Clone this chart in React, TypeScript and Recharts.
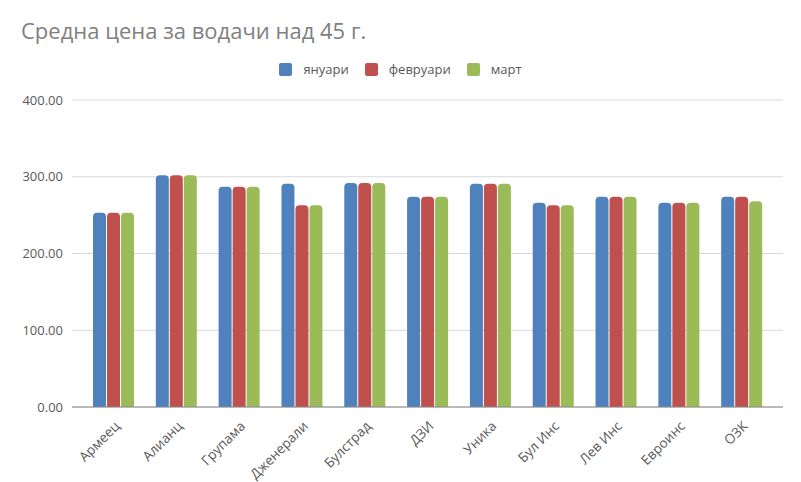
import { Bar, BarChart, CartesianGrid, XAxis, YAxis } from "recharts";

const companies = ["Армеец", "Алианц", "Групама", "Дженерали", "Булстрад", "ДЗИ", "Уника", "Бул Инс", "Лев Инс", "Евроинс", "ОЗК"];
const january = [253, 302, 287, 291, 292, 274, 291, 266, 274, 266, 274];
const february = [253, 302, 287, 263, 292, 274, 291, 263, 274, 266, 274];
const march = [253, 302, 287, 263, 292, 274, 291, 263, 274, 266, 268];
const yTicks = [0, 100, 200, 300, 400];

const series = [
  { key: "jan", name: "януари", color: "#4F81BD" },
  { key: "feb", name: "февруари", color: "#C0504D" },
  { key: "mar", name: "март", color: "#9BBB59" },
];

const data = companies.map((name, i) => ({
  name,
  jan: january[i],
  feb: february[i],
  mar: march[i],
}));

const font = "'Open Sans', 'DejaVu Sans', sans-serif";

function AngledTick(props: any) {
  const { x, y, payload } = props;
  const tx = x + 7;
  const ty = y + 12;
  return (
    <text
      x={tx}
      y={ty}
      transform={`rotate(-45, ${tx}, ${ty})`}
      textAnchor="end"
      fontSize={13.5}
      fill="#595959"
      fontFamily={font}
    >
      {payload.value}
    </text>
  );
}

export default function App() {
  return (
    <div style={{ position: "absolute", left: 0, top: 0, width: 801, height: 482, background: "#fff", fontFamily: font }}>
      <div style={{ position: "absolute", left: 21, top: 15, fontSize: 22, color: "#808080" }}>
        Средна цена за водачи над 45 г.
      </div>
      <div style={{ position: "absolute", left: 0, top: 60, width: 801, display: "flex", justifyContent: "center", fontSize: 13, color: "#595959" }}>
        {series.map((s) => (
          <div key={s.key} style={{ display: "flex", alignItems: "center", margin: "0 8px" }}>
            <span style={{ width: 13, height: 13, background: s.color, borderRadius: 2, marginRight: 11, display: "inline-block" }} />
            <span>{s.name}</span>
          </div>
        ))}
      </div>
      <BarChart
        width={801}
        height={482}
        data={data}
        margin={{ top: 100, right: 18, bottom: 0, left: 8 }}
        barSize={13}
        barGap={1}
      >
        <CartesianGrid vertical={false} stroke="#d9d9d9" />
        <XAxis
          dataKey="name"
          interval={0}
          height={75}
          tick={<AngledTick />}
          tickLine={false}
          axisLine={{ stroke: "#868686" }}
          padding={{ left: 10, right: 10 }}
        />
        <YAxis
          domain={[0, 400]}
          ticks={yTicks}
          width={64}
          tickLine={false}
          axisLine={false}
          tickSize={0}
          tickMargin={9}
          tickFormatter={(v: number) => v.toFixed(2)}
          tick={{ fontSize: 13, fill: "#595959", fontFamily: font }}
        />
        {series.map((s) => (
          <Bar key={s.key} dataKey={s.key} name={s.name} fill={s.color} radius={[4, 4, 0, 0]} isAnimationActive={false} />
        ))}
      </BarChart>
    </div>
  );
}
